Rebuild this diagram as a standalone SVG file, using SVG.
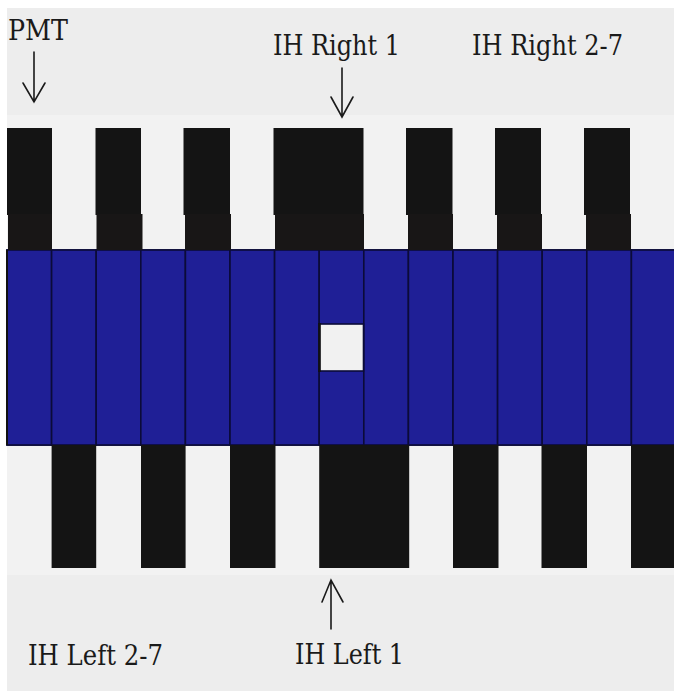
<svg xmlns="http://www.w3.org/2000/svg" width="674" height="691" viewBox="0 0 674 691">
<style>
.blk{fill:#141414}
.blk2{fill:#181616}
.cell{fill:#1f1f96;stroke:#0b0b38;stroke-width:1.6}
.lbl{font-size:27px;fill:#1a1a1a}
.arr{fill:none;stroke:#1a1a1a;stroke-width:1.6;stroke-linecap:round;stroke-linejoin:miter}
</style>
<rect x="0" y="0" width="674" height="691" fill="#ffffff"/>
<rect x="7" y="8" width="667" height="683" fill="#ededed"/>
<rect x="7" y="115" width="667" height="135" fill="#f2f2f2"/>
<rect x="7" y="445" width="667" height="130" fill="#f2f2f2"/>

<g id="band">
  <rect x="7" y="250" width="669" height="195" fill="#1f1f96" stroke="#0b0b38" stroke-width="1.6"/>
  <g id="cells">
    <rect class="cell" x="7" y="250" width="44.6" height="195"/>
    <rect class="cell" x="51.6" y="250" width="44.6" height="195"/>
    <rect class="cell" x="96.2" y="250" width="44.6" height="195"/>
    <rect class="cell" x="140.8" y="250" width="44.6" height="195"/>
    <rect class="cell" x="185.4" y="250" width="44.6" height="195"/>
    <rect class="cell" x="230" y="250" width="44.6" height="195"/>
    <rect class="cell" x="274.6" y="250" width="44.6" height="195"/>
    <rect class="cell" x="319.2" y="250" width="44.6" height="195"/>
    <rect class="cell" x="363.8" y="250" width="44.6" height="195"/>
    <rect class="cell" x="408.4" y="250" width="44.6" height="195"/>
    <rect class="cell" x="453" y="250" width="44.6" height="195"/>
    <rect class="cell" x="497.6" y="250" width="44.6" height="195"/>
    <rect class="cell" x="542.2" y="250" width="44.6" height="195"/>
    <rect class="cell" x="586.8" y="250" width="44.6" height="195"/>
    <rect class="cell" x="631.4" y="250" width="44.6" height="195"/>
  </g>
  <line x1="7" y1="250" x2="7" y2="445" stroke="#111" stroke-width="2"/>
</g>

<g id="pmt-hole">
  <rect x="319.5" y="324" width="44" height="47" fill="#f1f1f1" stroke="#0b0b38" stroke-width="1.6"/>
  <line x1="319.5" y1="323" x2="319.5" y2="372" stroke="#111" stroke-width="2.5"/>
</g>

<g id="top-blocks">
  <g id="top-1"><rect class="blk" x="7" y="128" width="45" height="87"/><rect class="blk2" x="8" y="214" width="44" height="36"/></g>
  <g id="top-2"><rect class="blk" x="95.5" y="128" width="45.5" height="87"/><rect class="blk2" x="96.5" y="214" width="46" height="36"/></g>
  <g id="top-3"><rect class="blk" x="183.5" y="128" width="46.5" height="87"/><rect class="blk2" x="185" y="214" width="46" height="36"/></g>
  <g id="ih-right-1"><rect class="blk" x="273.5" y="128" width="90" height="87"/><rect class="blk2" x="275" y="214" width="89" height="36"/></g>
  <g id="top-5"><rect class="blk" x="406" y="128" width="46.5" height="87"/><rect class="blk2" x="408" y="214" width="45" height="36"/></g>
  <g id="top-6"><rect class="blk" x="495" y="128" width="46" height="87"/><rect class="blk2" x="497" y="214" width="45" height="36"/></g>
  <g id="top-7"><rect class="blk" x="584" y="128" width="46" height="87"/><rect class="blk2" x="586" y="214" width="45" height="36"/></g>
</g>

<g id="bottom-blocks">
  <g id="bot-1"><rect class="blk" x="51.6" y="445" width="44.6" height="123"/></g>
  <g id="bot-2"><rect class="blk" x="141" y="445" width="44.6" height="123"/></g>
  <g id="bot-3"><rect class="blk" x="230" y="445" width="45.5" height="123"/></g>
  <g id="ih-left-1"><rect class="blk" x="319.2" y="445" width="90" height="123"/></g>
  <g id="bot-5"><rect class="blk" x="453" y="445" width="45.5" height="123"/></g>
  <g id="bot-6"><rect class="blk" x="541.5" y="445" width="45.5" height="123"/></g>
  <g id="bot-7"><rect class="blk" x="631" y="445" width="45" height="123"/></g>
</g>

<g id="labels" font-family="'DejaVu Serif', 'Liberation Serif', 'Times New Roman', serif">
  <g id="lbl-pmt"><text class="lbl" x="8" y="40" font-size="25" textLength="60" lengthAdjust="spacingAndGlyphs">PMT</text></g>
  <g id="lbl-right1"><text class="lbl" x="273" y="55" font-size="25" textLength="127" lengthAdjust="spacingAndGlyphs">IH Right 1</text></g>
  <g id="lbl-right27"><text class="lbl" x="472" y="55" font-size="25" textLength="151" lengthAdjust="spacingAndGlyphs">IH Right 2-7</text></g>
  <g id="lbl-left27"><text class="lbl" x="28" y="665" font-size="25" textLength="135" lengthAdjust="spacingAndGlyphs">IH Left 2-7</text></g>
  <g id="lbl-left1"><text class="lbl" x="295" y="664" font-size="25" textLength="109" lengthAdjust="spacingAndGlyphs">IH Left 1</text></g>
</g>

<g id="connectors">
  <path class="arr" d="M34 52 V102 M23 83 L34 102 L45 83"/>
  <path class="arr" d="M342 68 V117 M331 97 L342 117 L353 97"/>
  <path class="arr" d="M331 629 V580 M322 602 L331 580 L343 602"/>
</g>
</svg>
